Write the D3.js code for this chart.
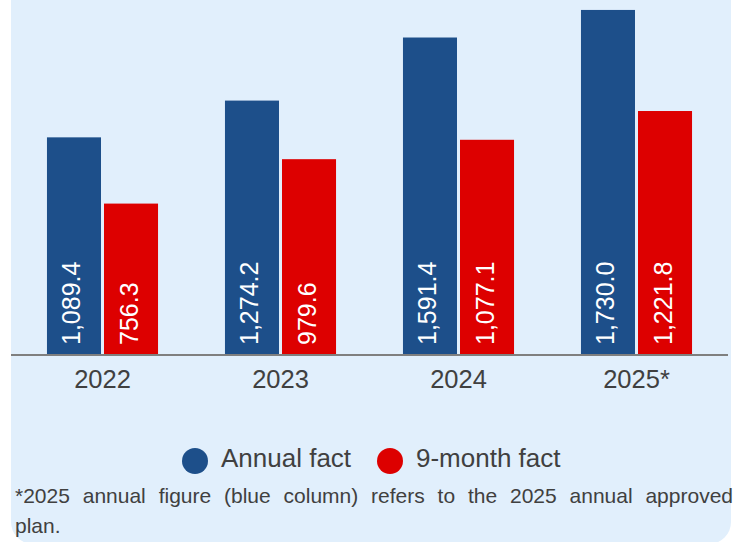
<!DOCTYPE html>
<html>
<head>
<meta charset="utf-8">
<script src="https://cdn.jsdelivr.net/npm/d3@7"></script>
<style>
  html, body { margin: 0; padding: 0; background: #fff; }
  #chart { position: relative; width: 737px; height: 542px; overflow: hidden; font-family: "Liberation Sans", Arial, sans-serif; }
  #note {
    position: absolute; left: 15px; top: 481px; width: 718px;
    font-size: 21px; line-height: 30px; color: #404040;
  }
  #note div:first-child { text-align: justify; text-align-last: justify; }
</style>
</head>
<body>
<div id="chart"></div>
<script>
  const years = ['2022', '2023', '2024', '2025*'];
  const annualFact = [1089.4, 1274.2, 1591.4, 1730.0];
  const nineMonthFact = [756.3, 979.6, 1077.1, 1221.8];
  const seriesNames = ['Annual fact', '9-month fact'];
  const seriesColors = ['#1d4f8a', '#dd0000'];
  const footnoteLines = [
    '*2025 annual figure (blue column) refers to the 2025 annual approved',
    'plan.'
  ];

  const W = 737, H = 542;
  const baseY = 354;

  const container = d3.select('#chart');
  const svg = container.append('svg')
    .attr('width', W)
    .attr('height', H)
    .style('position', 'absolute')
    .style('left', 0)
    .style('top', 0);

  // light blue panel, only bottom corners are visible
  svg.append('rect')
    .attr('x', 11)
    .attr('y', -40)
    .attr('width', 720)
    .attr('height', 584)
    .attr('rx', 22)
    .attr('fill', '#e1effc');

  const x0 = d3.scaleBand()
    .domain(years)
    .range([13.5, 725.5])
    .paddingInner(0.376)
    .paddingOuter(0.188);

  const x1 = d3.scaleBand()
    .domain(seriesNames)
    .range([0, x0.bandwidth()])
    .paddingInner(0.0526);

  const y = d3.scaleLinear()
    .domain([0, 1780])
    .range([baseY, 0]);

  const rows = years.map((yr, i) => ({
    year: yr,
    values: [
      { key: seriesNames[0], value: annualFact[i], color: seriesColors[0] },
      { key: seriesNames[1], value: nineMonthFact[i], color: seriesColors[1] }
    ]
  }));

  const groups = svg.selectAll('.group')
    .data(rows)
    .enter()
    .append('g')
    .attr('class', 'group')
    .attr('transform', d => `translate(${x0(d.year)}, 0)`);

  groups.selectAll('rect')
    .data(d => d.values)
    .enter()
    .append('rect')
    .attr('x', d => x1(d.key))
    .attr('y', d => y(d.value))
    .attr('width', x1.bandwidth())
    .attr('height', d => y(0) - y(d.value))
    .attr('fill', d => d.color);

  const fmt = d3.format(',.1f');
  groups.selectAll('text')
    .data(d => d.values)
    .enter()
    .append('text')
    .attr('transform', d => `translate(${x1(d.key) + x1.bandwidth() / 2}, ${baseY - 9}) rotate(-90)`)
    .attr('dy', '0.26em')
    .attr('text-anchor', 'start')
    .style('fill', '#fff')
    .style('font-size', '25px')
    .text(d => fmt(d.value));

  // category axis
  const xAxis = svg.append('g')
    .attr('transform', `translate(0, ${baseY + 1})`)
    .call(d3.axisBottom(x0).tickSize(0).tickPadding(15));
  xAxis.select('.domain').remove();
  xAxis.selectAll('text')
    .style('font-family', '"Liberation Sans", Arial, sans-serif')
    .style('font-size', '25.5px')
    .style('fill', '#404040');

  svg.append('line')
    .attr('x1', 11)
    .attr('x2', 728)
    .attr('y1', baseY + 1)
    .attr('y2', baseY + 1)
    .attr('stroke', '#7f7f7f')
    .attr('stroke-width', 2);

  // legend
  const legendX = [195, 390];
  const legend = svg.selectAll('.legend')
    .data(seriesNames)
    .enter()
    .append('g')
    .attr('class', 'legend')
    .attr('transform', (d, i) => `translate(${legendX[i]}, 461)`);

  legend.append('circle')
    .attr('r', 13)
    .attr('fill', (d, i) => seriesColors[i]);

  legend.append('text')
    .attr('x', 26)
    .attr('y', 6)
    .style('font-size', '26px')
    .style('fill', '#404040')
    .text(d => d);

  container.append('div')
    .attr('id', 'note')
    .selectAll('div')
    .data(footnoteLines)
    .enter()
    .append('div')
    .text(d => d);
</script>
</body>
</html>
